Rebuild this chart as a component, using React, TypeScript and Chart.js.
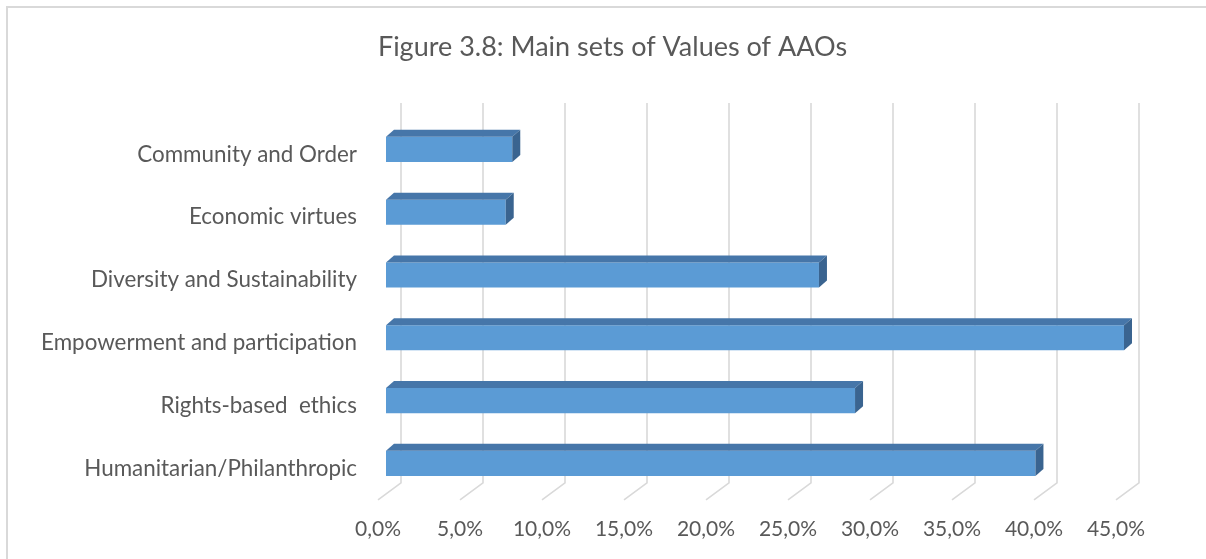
import React, { useEffect, useRef } from 'react';
import { Chart, registerables } from 'chart.js';

Chart.register(...registerables);

const titleText = 'Figure 3.8: Main sets of Values of AAOs';
const categories = [
  'Community and Order',
  'Economic virtues',
  'Diversity and Sustainability',
  'Empowerment and participation',
  'Rights-based  ethics',
  'Humanitarian/Philanthropic',
];
const values = [7.7, 7.3, 26.4, 45.0, 28.6, 39.6];
const axisMin = 0;
const axisMax = 45;
const axisStep = 5;

const FONT = 'Lato, "Noto Sans", sans-serif';
const TEXT = '#595959';
const GRID = '#d9d9d9';
const FRONT = '#5B9BD5';
const TOP = '#4676A9';
const SIDE = '#3A6490';

// 3D geometry (pixels)
const BAR_SHIFT_X = 8;
const BAR_SHIFT_Y = -5;
const BAR_DX = 8;
const BAR_DY = -7;
const FLOOR_DX = 23;
const FLOOR_DY = 17;
const WALL_EXTRA = 20;

const fmt = (v: number) => v.toFixed(1).replace('.', ',') + '%';

const threeD = {
  id: 'threeD',
  beforeDraw(chart: any) {
    const ctx = chart.ctx;
    ctx.save();
    ctx.strokeStyle = GRID;
    ctx.lineWidth = 2;
    ctx.beginPath();
    ctx.moveTo(7, chart.height + 5);
    ctx.lineTo(7, 7);
    ctx.lineTo(chart.width + 5, 7);
    ctx.stroke();
    ctx.fillStyle = TEXT;
    ctx.font = `normal 27px ${FONT}`;
    ctx.textAlign = 'center';
    ctx.textBaseline = 'middle';
    ctx.fillText(titleText, 612.5, 47.2);
    ctx.restore();
  },
  beforeDatasetsDraw(chart: any) {
    const ctx = chart.ctx;
    const xs = chart.scales.x;
    const area = chart.chartArea;
    ctx.save();
    ctx.strokeStyle = GRID;
    ctx.lineWidth = 1.6;
    xs.ticks.forEach((t: any) => {
      const x = xs.getPixelForValue(t.value);
      ctx.beginPath();
      ctx.moveTo(x + FLOOR_DX, area.top - WALL_EXTRA);
      ctx.lineTo(x + FLOOR_DX, area.bottom - FLOOR_DY);
      ctx.lineTo(x, area.bottom);
      ctx.stroke();
    });
    ctx.restore();
    ctx.save();
    ctx.translate(BAR_SHIFT_X, BAR_SHIFT_Y);
  },
  afterDatasetsDraw(chart: any) {
    const ctx = chart.ctx;
    const meta = chart.getDatasetMeta(0);
    meta.data.forEach((el: any) => {
      const p = el.getProps(['x', 'y', 'base', 'height'], true);
      const x0 = Math.min(p.base, p.x);
      const x1 = Math.max(p.base, p.x);
      const yT = p.y - p.height / 2;
      const yB = p.y + p.height / 2;
      ctx.fillStyle = TOP;
      ctx.beginPath();
      ctx.moveTo(x0, yT);
      ctx.lineTo(x1, yT);
      ctx.lineTo(x1 + BAR_DX, yT + BAR_DY);
      ctx.lineTo(x0 + BAR_DX, yT + BAR_DY);
      ctx.closePath();
      ctx.fill();
      ctx.fillStyle = SIDE;
      ctx.beginPath();
      ctx.moveTo(x1, yT);
      ctx.lineTo(x1 + BAR_DX, yT + BAR_DY);
      ctx.lineTo(x1 + BAR_DX, yB + BAR_DY);
      ctx.lineTo(x1, yB);
      ctx.closePath();
      ctx.fill();
    });
    ctx.restore();
  },
};

export default function App() {
  const ref = useRef<HTMLCanvasElement | null>(null);
  useEffect(() => {
    if (!ref.current) return;
    const chart = new Chart(ref.current, {
      type: 'bar',
      data: {
        labels: categories,
        datasets: [
          {
            data: values,
            backgroundColor: FRONT,
            borderWidth: 0,
            barPercentage: 0.4,
            categoryPercentage: 1,
            clip: false as any,
          },
        ],
      },
      options: {
        indexAxis: 'y',
        responsive: false,
        animation: false,
        layout: { padding: { left: 10, right: 90, top: 123, bottom: 0 } },
        plugins: {
          legend: { display: false },
          tooltip: { enabled: false },
          title: { display: false },
        },
        scales: {
          x: {
            min: axisMin,
            max: axisMax,
            grid: { display: false, drawTicks: false },
            border: { display: false },
            ticks: {
              stepSize: axisStep,
              color: TEXT,
              font: { family: FONT, size: 21 },
              padding: 17,
              maxRotation: 0,
              callback: (v: any) => fmt(Number(v)),
            },
          },
          y: {
            grid: { display: false, drawTicks: false },
            border: { display: false },
            afterFit: (s: any) => {
              s.width = 368;
            },
            ticks: {
              color: TEXT,
              font: { family: FONT, size: 22.4 },
              padding: 21,
            },
          },
        },
      },
      plugins: [threeD],
    });
    return () => chart.destroy();
  }, []);
  return (
    <div style={{ position: 'fixed', left: 0, top: 0, width: 1206, height: 559, overflow: 'hidden', background: '#fff' }}>
      <canvas ref={ref} width={1206} height={559} style={{ display: 'block' }} />
    </div>
  );
}
